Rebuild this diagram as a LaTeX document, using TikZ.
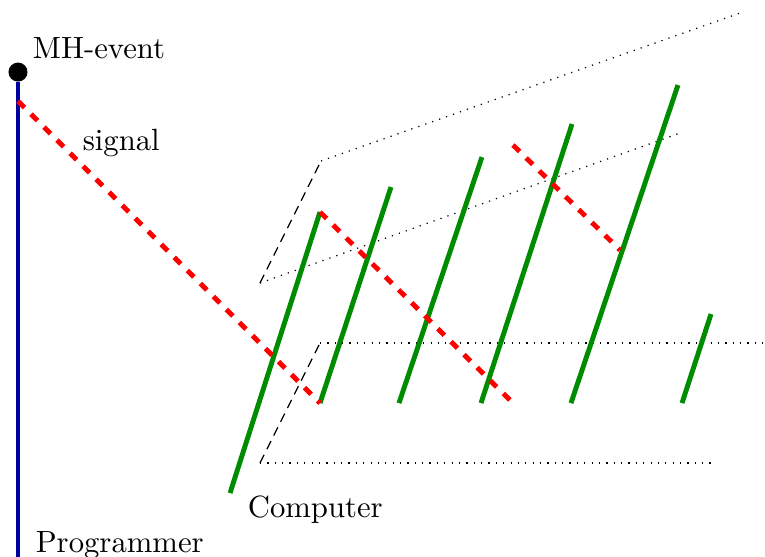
\documentclass[tikz,border=0pt]{standalone}
\usepackage{xcolor}
\usepackage{tikz}
\definecolor{progblue}{RGB}{0,0,160}
\definecolor{compgreen}{RGB}{0,140,0}

\begin{document}
\begin{tikzpicture}[
  x=1cm,
  y=1cm,
  mhdot/.style={circle, fill=black, inner sep=0pt, minimum size=6.2pt},
  prog/.style={color=progblue, line width=1.6pt},
  comp/.style={color=compgreen, line width=1.6pt},
  sig/.style={color=red, dashed, line width=1.6pt},
  slant/.style={densely dashed, line width=0.4pt},
  plane/.style={dotted, line width=0.4pt},
  every node/.style={font=\normalsize}
]
\useasboundingbox (0,0) rectangle (8.757,6.365);

% planes
\coordinate (p1) at (2.976,3.125);
\coordinate (p2) at (3.674,4.522);
\coordinate (p3) at (8.471,6.216);
\coordinate (p4) at (7.784,4.842);
\coordinate (q1) at (2.976,1.065);
\coordinate (q2) at (3.663,2.438);
\coordinate (q3) at (8.800,2.438);
\coordinate (q4) at (8.150,1.065);
\draw[slant] (p1) -- (p2);
\draw[slant] (q1) -- (q2);
\draw[plane] (p2) -- (p3);
\draw[plane] (p1) -- (p4);
\draw[plane] (q2) -- (q3);
\draw[plane] (q1) -- (q4);

% programmer
\node[mhdot] (mh) at (0.206,5.540) {};
\coordinate (pbot) at (0.206,-0.05);
\coordinate (s0) at (0.206,5.208);
\draw[prog] (mh) -- (pbot);
\node[anchor=base west] (mhlab) at (0.252,5.701) {MH-event};
\node[anchor=base west] (prlab) at (0.286,0.046) {Programmer};

% computer
\coordinate (g1a) at (2.633,0.721);
\coordinate (g1b) at (3.663,3.938);
\coordinate (g2a) at (3.663,1.751);
\coordinate (g2b) at (4.476,4.224);
\coordinate (g3a) at (4.567,1.751);
\coordinate (g3b) at (5.517,4.567);
\coordinate (g4a) at (5.506,1.751);
\coordinate (g4b) at (6.548,4.945);
\coordinate (g5a) at (6.536,1.751);
\coordinate (g5b) at (7.761,5.392);
\coordinate (g6a) at (7.807,1.751);
\coordinate (g6b) at (8.139,2.770);
\draw[comp] (g1a) -- (g1b);
\draw[comp] (g2a) -- (g2b);
\draw[comp] (g3a) -- (g3b);
\draw[comp] (g4a) -- (g4b);
\draw[comp] (g5a) -- (g5b);
\draw[comp] (g6a) -- (g6b);
\node[anchor=base west] (colab) at (2.713,0.446) {Computer};

% signals
\coordinate (r2b) at (5.872,1.751);
\coordinate (r3a) at (5.872,4.705);
\coordinate (r3b) at (7.097,3.503);
\draw[sig] (s0) -- (g2a);
\draw[sig] (g1b) -- (r2b);
\draw[sig] (r3a) -- (r3b);
\node[anchor=base west] (siglab) at (0.824,4.647) {signal};
\end{tikzpicture}
\end{document}
